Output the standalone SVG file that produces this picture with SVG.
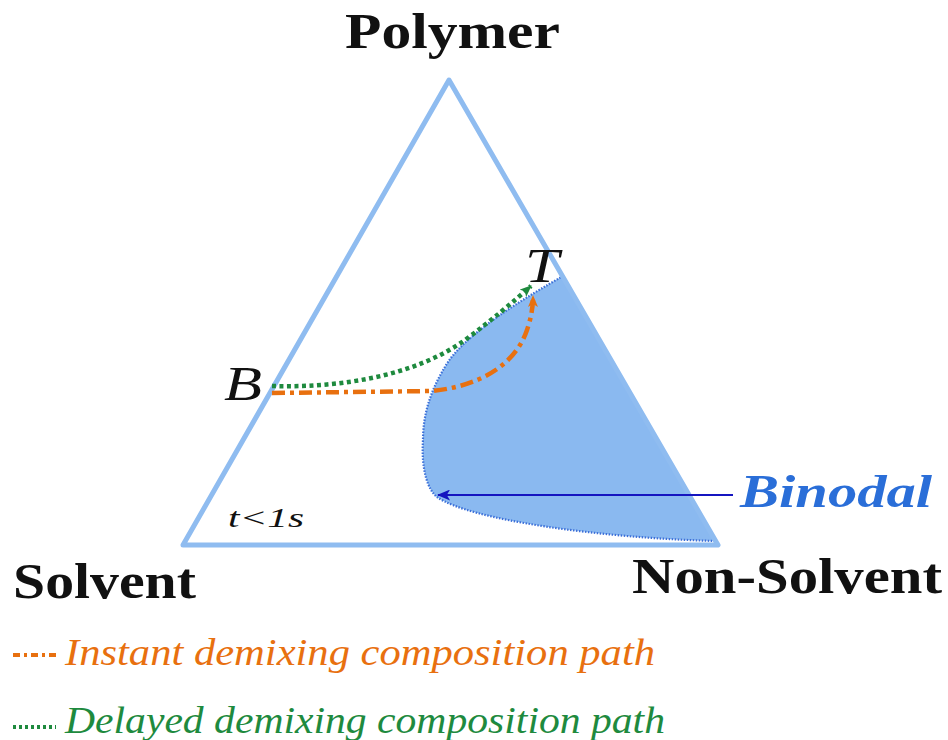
<svg xmlns="http://www.w3.org/2000/svg" width="948" height="740" viewBox="0 0 948 740">
<style>
.lbl{font-family:"Liberation Serif","DejaVu Serif",serif;font-weight:bold;fill:#111}
.mi{font-family:"Liberation Serif","DejaVu Serif",serif;font-style:italic;fill:#111}
.leg{font-family:"Liberation Serif","DejaVu Serif",serif;font-style:italic}
.green{fill:none;stroke:#1e8a3e;stroke-width:4.5;stroke-dasharray:4 3.5}
.orange{fill:none;stroke:#e8700f;stroke-width:4.5;stroke-dasharray:13 5 4 5}
</style>
<defs>
<marker id="ag" viewBox="0 0 12 10" refX="11" refY="5" markerWidth="12" markerHeight="10" markerUnits="userSpaceOnUse" orient="auto">
<path d="M0,0 L12,5 L0,10 L3,5 z" fill="#1e8a3e"/>
</marker>
<marker id="ao" viewBox="0 0 12 10" refX="11" refY="5" markerWidth="12" markerHeight="10" markerUnits="userSpaceOnUse" orient="auto">
<path d="M0,0 L12,5 L0,10 L3,5 z" fill="#e8700f"/>
</marker>
<marker id="ab" viewBox="0 0 12 10" refX="11" refY="5" markerWidth="14" markerHeight="11" markerUnits="userSpaceOnUse" orient="auto">
<path d="M0,0 L12,5 L0,10 L3,5 z" fill="#1515c0"/>
</marker>
</defs>
<rect width="948" height="740" fill="#fff"/>
<g id="binodal-region">
<path d="M563,276 C530,295 470,330 448,362 C430,390 423,415 423,440 C421,470 428,490 437,497 C470,520 600,538 716,541 Z" fill="#8ab9f0"/>
<path d="M563,276 C530,295 470,330 448,362 C430,390 423,415 423,440 C421,470 428,490 437,497 C470,520 600,538 716,541" fill="none" stroke="#3b6fd8" stroke-width="2.2" stroke-dasharray="1.5 1.5"/>
</g>
<g id="triangle">
<path d="M449,80 L718,545 L183,545 Z" fill="none" stroke="#8fbcf0" stroke-width="5" stroke-linejoin="round"/>
</g>
<g id="connectors">
<path class="green" d="M272,386 C340,388 415,376 465,340 C492,320 513,302 531,286" marker-end="url(#ag)"/>
<path class="orange" d="M272,393 L432,391 C480,386 515,365 527,330 C531,318 533,308 533,296" marker-end="url(#ao)"/>
<line x1="733" y1="495" x2="438" y2="495" stroke="#1515c0" stroke-width="2.2" marker-end="url(#ab)"/>
</g>
<g id="labels">
<text class="lbl" x="345" y="48" font-size="50" textLength="215" lengthAdjust="spacingAndGlyphs">Polymer</text>
<text class="lbl" x="13" y="598" font-size="50" textLength="183" lengthAdjust="spacingAndGlyphs">Solvent</text>
<text class="lbl" x="632" y="593" font-size="50" textLength="310" lengthAdjust="spacingAndGlyphs">Non-Solvent</text>
<text class="mi" x="224" y="400" font-size="48" textLength="38" lengthAdjust="spacingAndGlyphs">B</text>
<text class="mi" x="525" y="282" font-size="48" textLength="34" lengthAdjust="spacingAndGlyphs">T</text>
<text class="mi" x="228" y="527" font-size="28" textLength="76" lengthAdjust="spacingAndGlyphs">t&lt;1s</text>
<text x="740" y="507" font-size="46" font-family="Liberation Serif, DejaVu Serif, serif" font-style="italic" font-weight="bold" fill="#2a6ed8" textLength="192" lengthAdjust="spacingAndGlyphs">Binodal</text>
</g>
<g id="legend">
<line x1="13" y1="655" x2="56" y2="655" stroke="#e8700f" stroke-width="4" stroke-dasharray="7 4 3 4"/>
<text class="leg" x="65" y="665" font-size="38" fill="#e8700f" textLength="590" lengthAdjust="spacingAndGlyphs">Instant demixing composition path</text>
<line x1="13" y1="727" x2="56" y2="727" stroke="#1e8a3e" stroke-width="4" stroke-dasharray="3 3"/>
<text class="leg" x="65" y="733" font-size="38" fill="#1e8a3e" textLength="600" lengthAdjust="spacingAndGlyphs">Delayed demixing composition path</text>
</g>
</svg>
